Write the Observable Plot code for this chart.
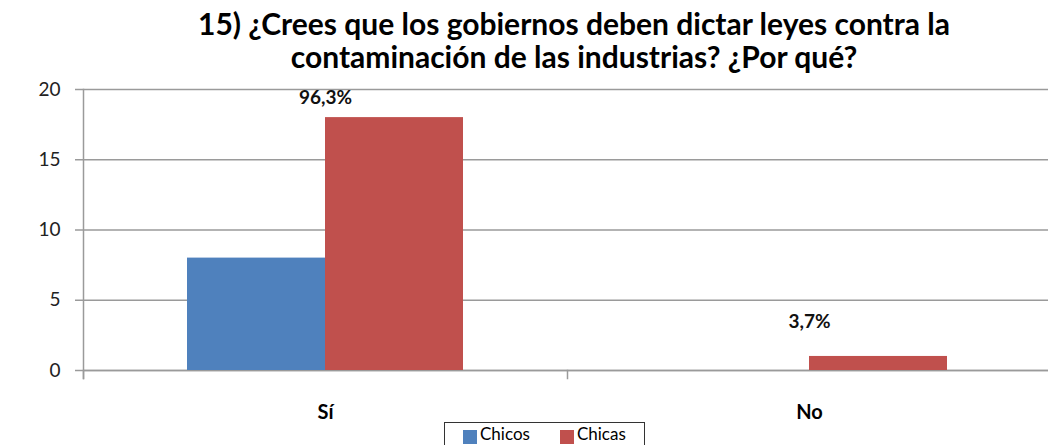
<!DOCTYPE html>
<html><head><meta charset="utf-8">
<script src="https://cdn.jsdelivr.net/npm/d3@7"></script>
<script src="https://cdn.jsdelivr.net/npm/@observablehq/plot@0.6"></script>
<style>
html,body{margin:0;padding:0;background:#fff;}
body{font-family:Lato,"Noto Sans",sans-serif;overflow:hidden;width:1048px;height:445px;}
#title{height:76px;box-sizing:border-box;padding-top:7px;padding-left:100px;text-align:center;font-weight:bold;font-size:30px;line-height:33px;color:#000;white-space:nowrap;}
#chart svg{display:block;}
#legend{position:relative;margin-top:-6px;margin-left:444px;width:201px;height:26px;box-sizing:border-box;border:1px solid #333;display:flex;align-items:flex-start;padding-top:1px;padding-left:18px;font-size:17px;line-height:20px;color:#000;background:transparent;}
#legend .sw{width:14px;height:14px;margin-top:6px;margin-right:3px;}
#legend .item{display:flex;align-items:flex-start;margin-right:30px;}
</style>
</head><body>
<div id="title">15) ¿Crees que los gobiernos deben dictar leyes contra la<br>contaminación de las industrias? ¿Por qué?</div>
<div id="chart"></div>
<div id="legend"></div>
<script>
const categories = ["Sí", "No"];
const series = ["Chicos", "Chicas"];
const chicos = [8, 0];
const chicas = [18, 1];
const pctLabels = ["96,3%", "3,7%"];
const yTicks = [0, 5, 10, 15, 20];
const colors = ["#4F81BD", "#C0504D"];

const rows = [];
categories.forEach((c, i) => {
  rows.push({cat: c, series: "Chicos", value: chicos[i]});
  rows.push({cat: c, series: "Chicas", value: chicas[i]});
});
const labels = categories.map((c, i) => ({cat: c, value: chicas[i], label: pctLabels[i]}));

const W = 1048, H = 352, mT = 13, mB = 58;
const plotH = H - mT - mB;
const gray = "#9a9a9a";

const chart = Plot.plot({
  width: W,
  height: H,
  marginTop: mT,
  marginBottom: mB,
  marginLeft: 83,
  marginRight: -3,
  style: {fontFamily: "Lato, 'Noto Sans', sans-serif", background: "#fff", color: "#000"},
  fx: {domain: categories, padding: 0, label: null},
  x: {domain: series, paddingInner: 0, paddingOuter: 0.75, axis: null},
  y: {domain: [0, 20], label: null},
  color: {domain: series, range: colors},
  marks: [
    Plot.gridY(yTicks, {stroke: gray, strokeOpacity: 1, strokeWidth: 1.5}),
    Plot.ruleY([0], {stroke: gray, strokeWidth: 1.5}),
    Plot.frame({anchor: "left", facet: "super", stroke: gray, strokeWidth: 1.5, insetBottom: -8}),
    Plot.frame({anchor: "left", stroke: gray, strokeWidth: 1.5, insetTop: plotH, insetBottom: -8}),
    Plot.barY(rows, {fx: "cat", x: "series", y: "value", fill: "series"}),
    Plot.text(labels.filter((d, i) => i === 0), {fx: "cat", y: "value", text: "label", dy: -19.5, fontWeight: "bold", fontSize: 19, fill: "#111"}),
    Plot.text(labels.filter((d, i) => i === 1), {fx: "cat", y: "value", text: "label", dy: -34.5, fontWeight: "bold", fontSize: 19, fill: "#111"}),
    Plot.axisY({ticks: yTicks, tickSize: 8, tickPadding: 15, fontSize: 19, stroke: gray, strokeWidth: 1.5, fill: "#222", label: null}),
    Plot.axisFx({anchor: "bottom", tickSize: 0, tickPadding: 34, fontSize: 20, fontWeight: "bold", fill: "#000", label: null})
  ]
});
document.getElementById("chart").appendChild(chart);

const lg = document.getElementById("legend");
series.forEach((s, i) => {
  const it = document.createElement("div");
  it.className = "item";
  const sw = document.createElement("div");
  sw.className = "sw";
  sw.style.background = colors[i];
  const tx = document.createElement("span");
  tx.textContent = s;
  it.appendChild(sw); it.appendChild(tx);
  lg.appendChild(it);
});
</script>
</body></html>
